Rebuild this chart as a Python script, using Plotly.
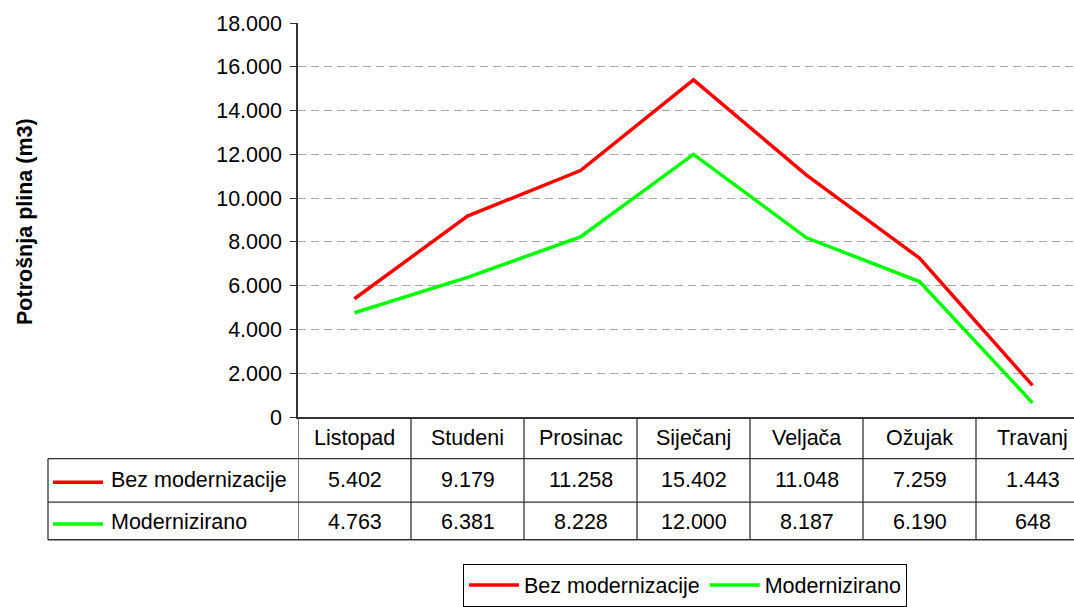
import plotly.graph_objects as go

months = ["Listopad", "Studeni", "Prosinac", "Siječanj", "Veljača", "Ožujak", "Travanj"]
bez_modernizacije = [5402, 9179, 11258, 15402, 11048, 7259, 1443]
modernizirano = [4763, 6381, 8228, 12000, 8187, 6190, 648]
series_names = ["Bez modernizacije", "Modernizirano"]
series_colors = ["#FF0000", "#00FF00"]
y_title = "Potrošnja plina (m3)"

W, H = 1074, 607
L, R, T, B = 298, 0, 23, 186
plot_w = W - L - R
plot_h = H - T - B
col_w = 113.0
FONT = "Liberation Sans, Arial, sans-serif"
FS = 21.5
LINE_COL = "#333333"


def py(pix):
    """pixel row -> paper y"""
    return (H - B - pix) / plot_h


def px(pix):
    """pixel column -> paper x"""
    return (pix - L) / plot_w


def fmt(v):
    return f"{v:,}".replace(",", ".")


x_idx = list(range(len(months)))
series = [bez_modernizacije, modernizirano]

fig = go.Figure()
for name, vals, col in zip(series_names, series, series_colors):
    fig.add_trace(go.Scatter(
        x=x_idx, y=vals, name=name, mode="lines",
        line=dict(color=col, width=3.5), cliponaxis=False,
    ))

shapes = []
annotations = []

# table geometry (pixel rows)
row_top, row1_top, row2_top, row_bot = 421, 463, 507, 545
table_left = 48

# vertical column lines via x axis
for i in range(len(months) + 1):
    shapes.append(dict(type="line", xref="x", yref="paper",
                       x0=i - 0.5, x1=i - 0.5, y0=py(row_top), y1=py(row_bot),
                       line=dict(color=LINE_COL, width=1.3)))
# left border of label column
shapes.append(dict(type="line", xref="paper", yref="paper",
                   x0=px(table_left), x1=px(table_left), y0=py(row1_top), y1=py(row_bot),
                   line=dict(color=LINE_COL, width=1.3)))
# horizontal lines
for r in (row1_top, row2_top, row_bot):
    shapes.append(dict(type="line", xref="paper", yref="paper",
                       x0=px(table_left), x1=1, y0=py(r), y1=py(r),
                       line=dict(color=LINE_COL, width=1.3)))

# header labels
for i, m in enumerate(months):
    annotations.append(dict(x=i, y=py((row_top + row1_top) / 2), xref="x", yref="paper",
                            text=m, showarrow=False, xanchor="center", yanchor="middle",
                            font=dict(family=FONT, size=FS, color="black")))

# data rows
row_centers = [(row1_top + row2_top) / 2, (row2_top + row_bot) / 2 + 1]
for (name, vals, col), yc in zip(zip(series_names, series, series_colors), row_centers):
    shapes.append(dict(type="line", xref="paper", yref="paper",
                       x0=px(53), x1=px(103), y0=py(yc + 2), y1=py(yc + 2),
                       line=dict(color=col, width=3.5)))
    annotations.append(dict(x=px(109), y=py(yc), xref="paper", yref="paper",
                            text=name, showarrow=False, xanchor="left", yanchor="middle",
                            font=dict(family=FONT, size=FS, color="black")))
    for i, v in enumerate(vals):
        annotations.append(dict(x=i, y=py(yc), xref="x", yref="paper",
                                text=fmt(v), showarrow=False, xanchor="center", yanchor="middle",
                                font=dict(family=FONT, size=FS, color="black")))

# y-axis title
annotations.append(dict(x=px(25), y=py(224), xref="paper", yref="paper",
                        text=f"<b>{y_title}</b>", textangle=-90, showarrow=False,
                        xanchor="center", yanchor="middle",
                        font=dict(family=FONT, size=FS, color="black")))

fig.update_layout(
    width=W, height=H,
    margin=dict(l=L, r=R, t=T, b=B, pad=0),
    paper_bgcolor="white", plot_bgcolor="white",
    separators=",.",
    font=dict(family=FONT, size=FS, color="black"),
    showlegend=True,
    legend=dict(orientation="h", x=px(463), xanchor="left", y=py(569), yanchor="top",
                bordercolor="black", borderwidth=1, bgcolor="white",
                font=dict(family=FONT, size=FS, color="black"),
                itemwidth=50, tracegroupgap=0),
    shapes=shapes,
    annotations=annotations,
    xaxis=dict(range=[-0.5, -0.5 + plot_w / col_w], showticklabels=False, showgrid=False,
               zeroline=False, showline=True, linecolor=LINE_COL, linewidth=1.5, ticks="",
               fixedrange=True),
    yaxis=dict(range=[0, 18000], dtick=2000, tick0=0, tickformat=",d",
               showline=True, linecolor=LINE_COL, linewidth=1.5,
               ticks="outside", ticklen=6, tickcolor=LINE_COL, tickwidth=1.3,
               showgrid=True, gridcolor="#A6A6A6", gridwidth=1, griddash="8px,5px",
               zeroline=False, tickfont=dict(family=FONT, size=FS, color="black"),
               ticklabelstandoff=4, fixedrange=True),
)

fig.write_html(
    "out.html",
    config={"displayModeBar": False},
    post_script="document.body.style.margin='0px';document.body.style.overflow='hidden';",
)
